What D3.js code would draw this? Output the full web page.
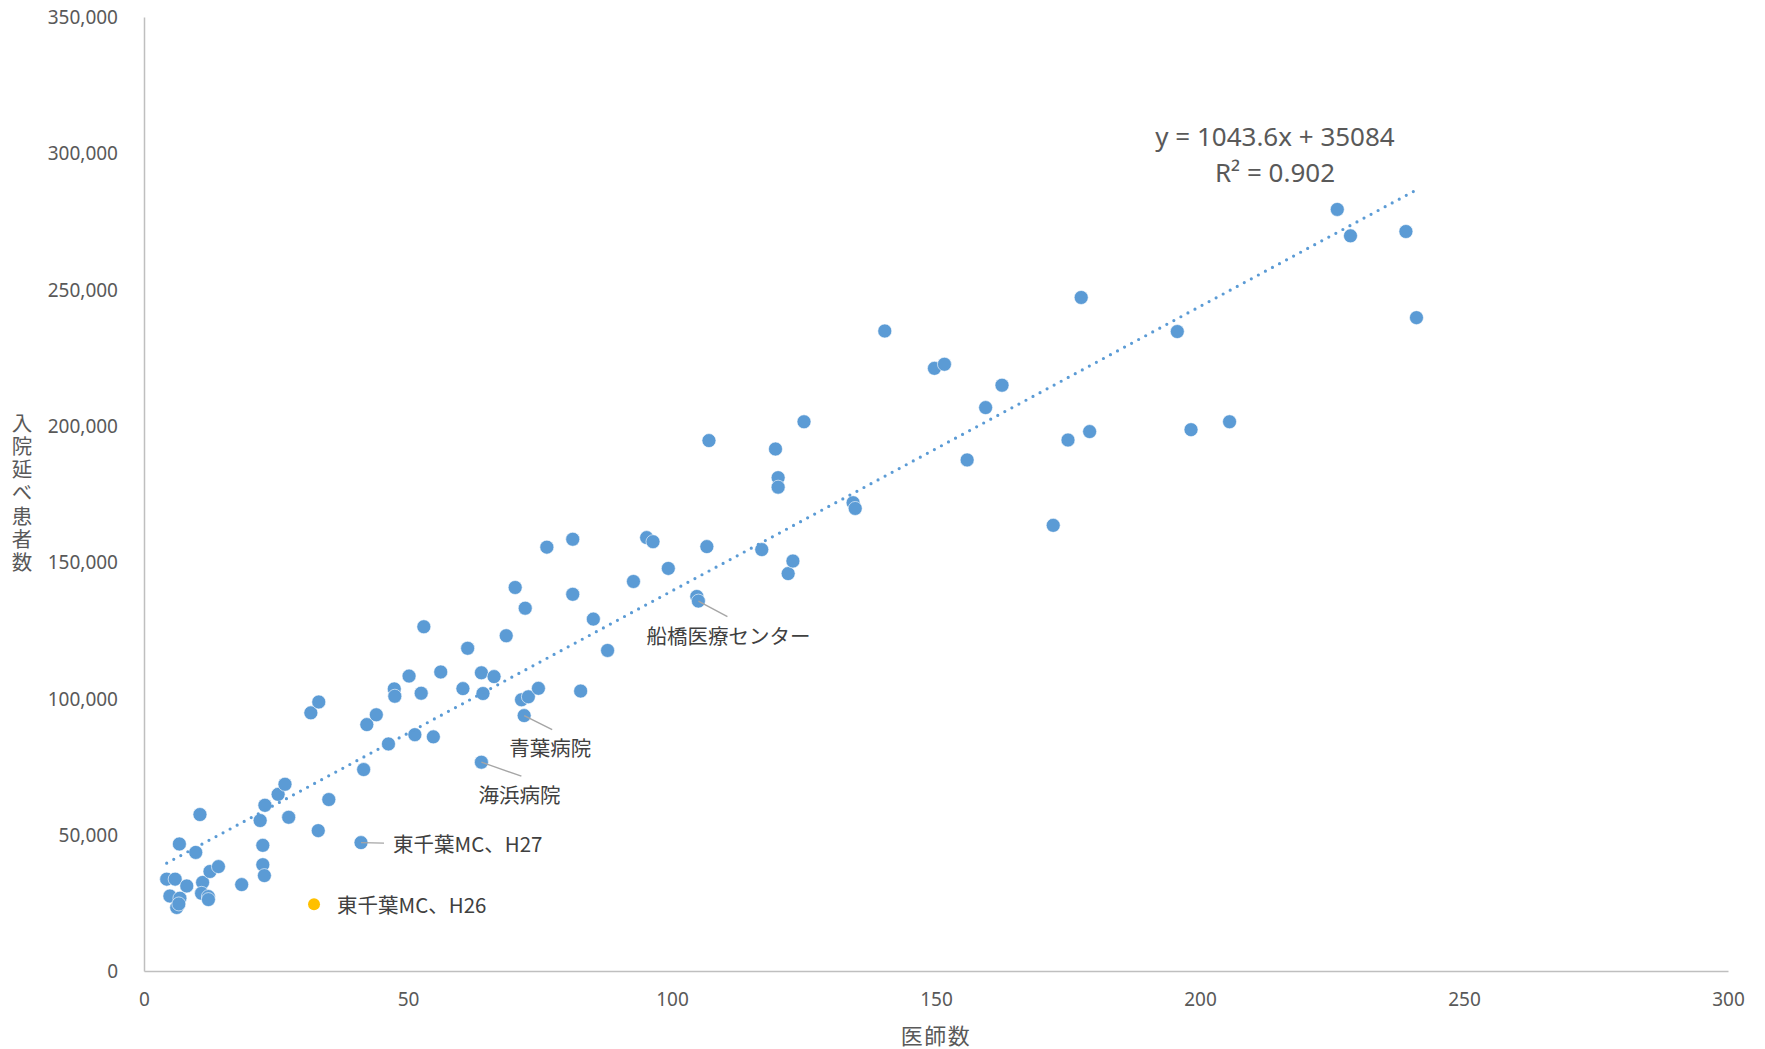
<!DOCTYPE html>
<html>
<head>
<meta charset="utf-8">
<script src="https://cdn.jsdelivr.net/npm/d3@7"></script>
<style>
  body { margin: 0; background: #fff; }
  svg { display: block; }
  text { font-family: "Noto Sans", "Noto Sans CJK JP", sans-serif; }
</style>
</head>
<body>
<svg id="chart" width="1765" height="1049"></svg>
<script>
// 医師数 (x) と 入院延べ患者数 (y)
let doctors = [4.3, 5.9, 4.9, 6.8, 6.2, 6.6, 8.1, 6.7, 9.8, 10.6, 11.1, 10.9, 12.2, 12.2, 12.5, 14.1,
    18.5, 22.0, 22.5, 22.5, 22.8, 22.9, 25.4, 26.7, 27.4, 31.6, 33.1, 33.0, 35.0, 41.1, 41.6, 42.2,
    44.0, 46.3, 47.4, 47.5, 50.2, 51.3, 52.5, 53.0, 54.8, 56.2, 60.4, 61.3, 63.9, 64.2, 63.9, 66.3,
    68.6, 70.3, 71.5, 72.8, 72.2, 72.0, 74.7, 76.3, 81.2, 81.2, 82.7, 85.1, 87.8, 92.7, 95.2, 96.4,
    99.3, 104.7, 105.0, 106.6, 107.0, 117.0, 119.6, 120.1, 120.1, 122.0, 122.9, 125.0, 134.3, 134.7,
    140.3, 149.7, 151.6, 155.9, 159.4, 162.5, 172.2, 175.0, 177.5, 179.1, 195.7, 198.3, 205.6, 226.0,
    228.5, 239.0, 241.0]
let inpatientDays = [33700, 33700, 27500, 26700, 23300, 24600, 31200, 46600, 43500, 57400, 32500, 28500,
    27300, 26200, 36500, 38300, 31700, 55200, 46100, 39000, 35000, 60800, 64800, 68500, 56400, 94700,
    98700, 51500, 62900, 47100, 73900, 90400, 94000, 83300, 103500, 100800, 108200, 86700, 101900,
    126300, 85900, 109700, 103600, 118400, 109400, 101800, 76600, 108000, 123000, 140700, 99500,
    100600, 133100, 93700, 103700, 155500, 158400, 138200, 102700, 129100, 117600, 142900, 159000,
    157500, 147700, 137400, 135700, 155700, 194600, 154600, 191500, 181000, 177500, 145800, 150400,
    201500, 171800, 169700, 234800, 221100, 222600, 187500, 206700, 214900, 163500, 194800, 247100,
    197900, 234600, 198600, 201500, 279400, 269700, 271300, 239700]

// 東千葉MC、H26 (別系列)
let highlightDoctors = [32.2]
let highlightDays = [24500]

// 個別ラベル
let labelNames = ['東千葉MC、H27', '海浜病院', '青葉病院', '船橋医療センター', '東千葉MC、H26']
let labelX = [41.1, 63.9, 72.0, 105.0, 32.2]
let labelY = [47100, 76600, 93700, 135700, 24500]

let xTicks = [0, 50, 100, 150, 200, 250, 300]
let yTicks = [0, 50000, 100000, 150000, 200000, 250000, 300000, 350000]

let slope = 1043.6
let intercept = 35084
let rSquared = 0.902

let svg = d3.select('#chart')
let plotLeft = 144, plotRight = 1728, plotTop = 17, plotBottom = 971

let x = d3.scaleLinear().domain([0, 300]).range([plotLeft, plotRight])
let y = d3.scaleLinear().domain([0, 350000]).range([plotBottom, plotTop])
let fmt = d3.format(',')

// axes
let xAxis = svg.append('g')
    .attr('transform', 'translate(0,' + plotBottom + ')')
    .call(d3.axisBottom(x).tickValues(xTicks).tickSize(0).tickPadding(22))
let yAxis = svg.append('g')
    .attr('transform', 'translate(' + plotLeft + ',0)')
    .call(d3.axisLeft(y).tickValues(yTicks).tickSize(0).tickPadding(26).tickFormat(fmt))

svg.selectAll('.domain').attr('stroke', '#bfbfbf').attr('stroke-width', 1.5)
svg.selectAll('.tick text')
    .attr('fill', '#595959')
    .style('font-size', '19px')
    .style('font-family', '"Noto Sans", sans-serif')
yAxis.selectAll('.tick text').attr('dy', '0.35em')

// axis titles
svg.append('text')
    .attr('x', (plotLeft + plotRight) / 2)
    .attr('y', 1044)
    .attr('text-anchor', 'middle')
    .attr('fill', '#595959')
    .style('font-family', '"Noto Sans CJK JP", sans-serif')
    .style('font-size', '22px')
    .style('letter-spacing', '1.5px')
    .text('医師数')

svg.append('text')
    .attr('x', 22)
    .attr('y', (plotTop + plotBottom) / 2)
    .attr('text-anchor', 'middle')
    .attr('fill', '#595959')
    .style('font-family', '"Noto Sans CJK JP", sans-serif')
    .style('font-size', '20.5px')
    .style('writing-mode', 'vertical-rl')
    .style('text-orientation', 'upright')
    .style('letter-spacing', '2.7px')
    .text('入院延べ患者数')

// points
let points = doctors.map((d, i) => ({x: d, y: inpatientDays[i]}))
svg.append('g').selectAll('circle')
    .data(points)
    .enter().append('circle')
    .attr('cx', d => x(d.x))
    .attr('cy', d => y(d.y))
    .attr('r', 7)
    .attr('fill', '#5b9bd5')
    .attr('stroke', '#ffffff')
    .attr('stroke-width', 0.6)

svg.append('g').selectAll('circle')
    .data(highlightDoctors.map((d, i) => ({x: d, y: highlightDays[i]})))
    .enter().append('circle')
    .attr('cx', d => x(d.x))
    .attr('cy', d => y(d.y))
    .attr('r', 6)
    .attr('fill', '#ffc000')

// trend line
let xExtent = d3.extent(doctors)
let trend = xExtent.map(v => ({x: v, y: slope * v + intercept}))
svg.append('path')
    .datum(trend)
    .attr('d', d3.line().x(d => x(d.x)).y(d => y(d.y)))
    .attr('fill', 'none')
    .attr('stroke', '#5b9bd5')
    .attr('stroke-width', 3.2)
    .attr('stroke-linecap', 'round')
    .attr('stroke-dasharray', '0 8')

let eqX = 1275
svg.append('text')
    .attr('x', eqX).attr('y', 137).attr('dy', '0.35em')
    .attr('text-anchor', 'middle')
    .attr('fill', '#595959')
    .style('font-size', '26px')
    .text('y = ' + slope + 'x + ' + intercept)
svg.append('text')
    .attr('x', eqX).attr('y', 173).attr('dy', '0.35em')
    .attr('text-anchor', 'middle')
    .attr('fill', '#595959')
    .style('font-size', '26px')
    .text('R² = ' + rSquared)

// data labels: text offset and leader end, relative to the point
let labelOffsets = [
    {dx: 32, dy: 2, lx: 23, ly: 0.5},
    {dx: -3, dy: 33, lx: 40, ly: 14},
    {dx: -15, dy: 33, lx: 28, ly: 14},
    {dx: -52, dy: 35, lx: 29, ly: 15.5},
    {dx: 23, dy: 1.5, lx: null, ly: null},
]
let labels = svg.append('g')
labelNames.forEach((name, i) => {
    let px = x(labelX[i]), py = y(labelY[i])
    let o = labelOffsets[i]
    if (o.lx !== null) {
        labels.append('line')
            .attr('x1', px).attr('y1', py)
            .attr('x2', px + o.lx).attr('y2', py + o.ly)
            .attr('stroke', '#a6a6a6')
            .attr('stroke-width', 1.4)
    }
    labels.append('text')
        .attr('x', px + o.dx)
        .attr('y', py + o.dy)
        .attr('dy', '0.36em')
        .attr('fill', '#404040')
        .style('font-family', '"Noto Sans CJK JP", sans-serif')
        .style('font-size', '20.5px')
        .text(name)
})
</script>
</body>
</html>
